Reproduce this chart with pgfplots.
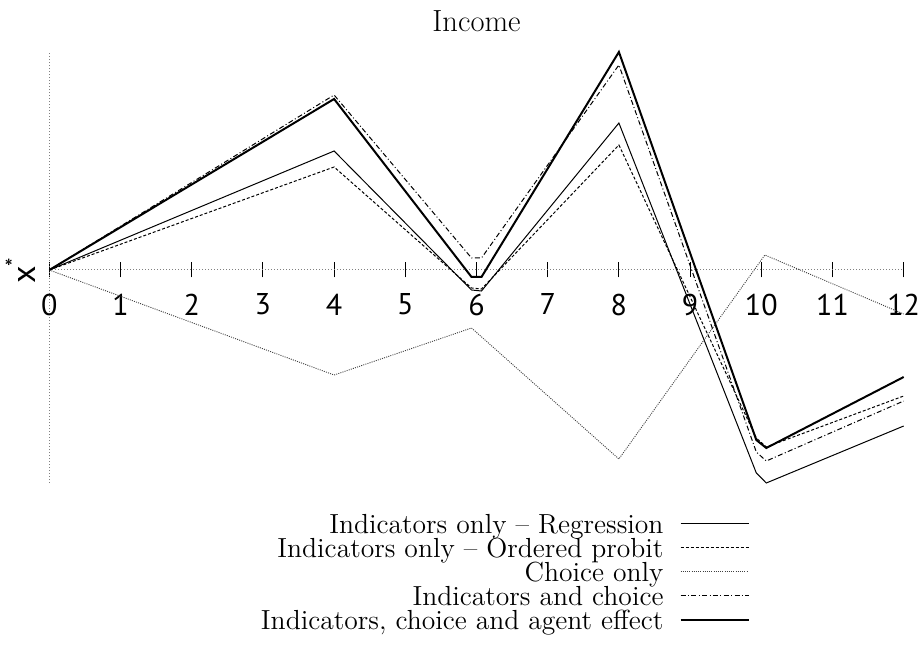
\documentclass[border=0pt]{standalone}
\usepackage{fontspec}
\usepackage{pgfplots}
\pgfplotsset{compat=1.18}
\usepackage{pgfplotstable}
\newfontfamily\ticksans{PT Sans}

\pgfplotstableread{
x y
0 0
4 119
5.93 -20
6.07 -21
8 147
9.93 -203
10.07 -213
12 -156
}\regression
\pgfplotstableread{
x y
0 0
4 103
5.93 -18
6.07 -19
8 125
9.93 -168
10.07 -177
12 -126
}\probit
\pgfplotstableread{
x y
0 0
4 -105
5.93 -58
8 -189
10.05 15
12 -44
}\choice
\pgfplotstableread{
x y
0 0
4 175
5.93 12
6.07 12
8 205
9.93 -182
10.07 -191
12 -131
}\indchoice
\pgfplotstableread{
x y
0 0
4 171
5.93 -7
6.07 -7
8 218
9.93 -170
10.07 -178
12 -107
}\agent

\begin{document}
\begin{tikzpicture}
\path[use as bounding box] (0,0) rectangle (461pt,-328.5pt);
\begin{axis}[
  at={(24.65pt,-241.5pt)}, anchor=south west,
  scale only axis, width=427.2pt, height=215.5pt,
  xmin=0, xmax=12, ymin=-213, ymax=218,
  enlargelimits=false, clip=false,
  axis lines=middle,
  axis line style={-, gray, dash pattern=on 0.6pt off 0.9pt, line width=0.5pt},
  hide obscured x ticks=false,
  xtick={0,1,...,12}, ytick=\empty,
  tick style={black, solid, line width=0.5pt},
  major tick length=7.5pt, tick align=center,
  /pgf/number format/assume math mode=true,
  xticklabel style={font=\ticksans\fontsize{15}{17}\selectfont, inner sep=0pt, anchor=north, yshift=-8pt},
  every axis y label/.style={at={(rel axis cs:0,0.494)}, xshift=-14.5pt, rotate=90, anchor=center},
  ylabel={\ticksans\fontsize{17}{19}\selectfont x\textsuperscript{*}},
  legend cell align=right,
  legend plot pos=right,
  legend style={at={(axis description cs:0.820,-0.072)}, anchor=north east,
    draw=none, fill=none, inner sep=0pt,
    font=\fontsize{13.8}{15}\selectfont,
    nodes={inner sep=0pt, text height=9.5pt, text depth=0pt},
    row sep=2.5pt, column sep=8pt},
  legend image code/.code={\draw[#1] (0pt,0pt) -- (34pt,0pt);},
]
\addplot[black, line width=0.5pt] table[x=x,y=y] {\regression};
\addlegendentry{Indicators only -- Regression}
\addplot[black, line width=0.5pt, dash pattern=on 1.5pt off 1pt] table[x=x,y=y] {\probit};
\addlegendentry{Indicators only -- Ordered probit}
\addplot[black!75, line width=0.45pt, dash pattern=on 0.5pt off 0.6pt] table[x=x,y=y] {\choice};
\addlegendentry{Choice only}
\addplot[black, line width=0.5pt, dash pattern=on 2.5pt off 1.2pt on 0.5pt off 1.2pt] table[x=x,y=y] {\indchoice};
\addlegendentry{Indicators and choice}
\addplot[black, line width=1pt] table[x=x,y=y] {\agent};
\addlegendentry{Indicators, choice and agent effect}
\node[anchor=base, font=\fontsize{15.3}{18}\selectfont, inner sep=0pt] at (rel axis cs:0.5,1) [yshift=10pt] {Income};
\end{axis}
\end{tikzpicture}
\end{document}
